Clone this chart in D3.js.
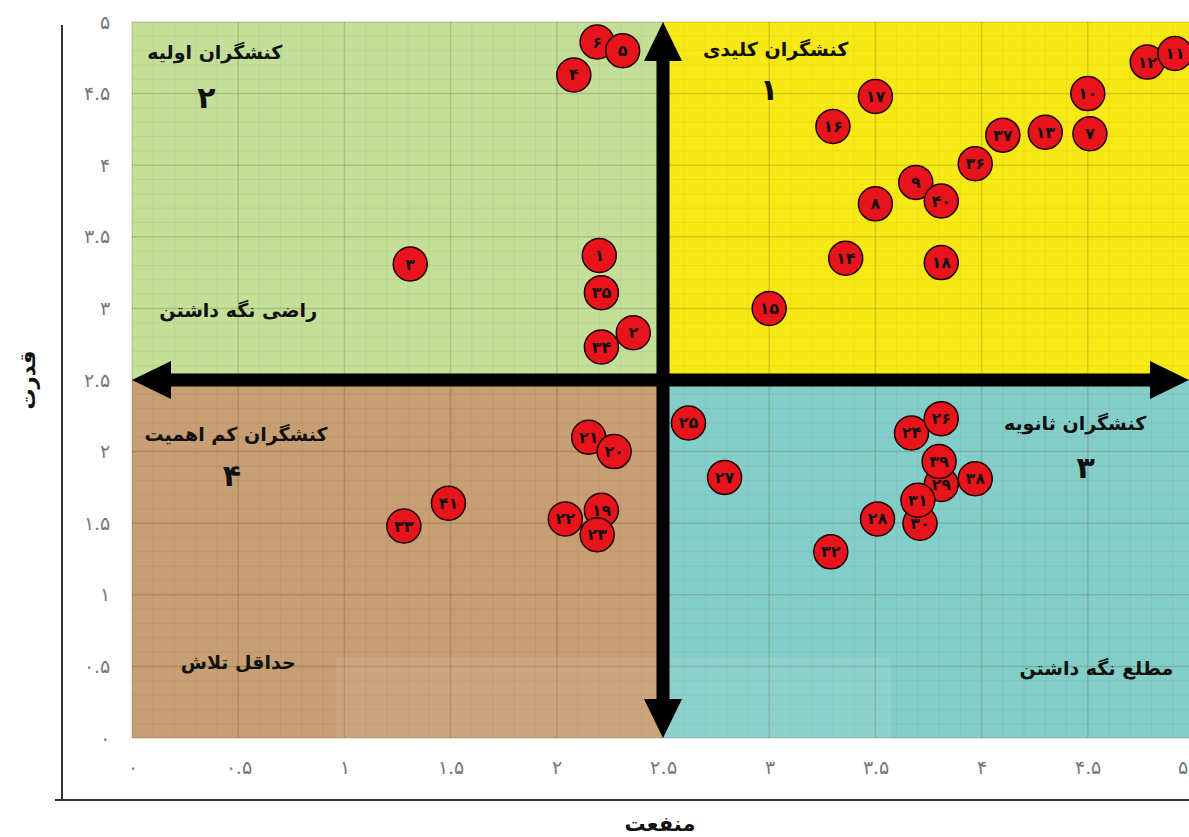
<!DOCTYPE html>
<html>
<head>
<meta charset="utf-8">
<script src="https://cdn.jsdelivr.net/npm/d3@7"></script>
<style>
  body { margin: 0; background: #fff; }
  svg { font-family: "DejaVu Sans", sans-serif; }
</style>
</head>
<body>
<svg width="1189" height="837"></svg>
<script>
// actors (draw order matters where circles overlap)
const actorIds = [1, 3, 4, 6, 5, 7, 8, 9, 10, 12, 11, 13, 14, 15, 16, 17, 18,
                  19, 21, 20, 22, 23, 24, 25, 26, 27, 28, 29, 30, 31, 32, 33,
                  34, 2, 35, 36, 37, 38, 39, 40, 41];
// منفعت (x)
const benefit = [2.20, 1.31, 2.08, 2.19, 2.31, 4.51, 3.50, 3.69, 4.50, 4.78, 4.91, 4.30, 3.36, 3.00, 3.30, 3.50, 3.81,
                 2.21, 2.15, 2.27, 2.04, 2.19, 3.67, 2.62, 3.81, 2.79, 3.51, 3.81, 3.71, 3.70, 3.29, 1.28,
                 2.21, 2.36, 2.21, 3.97, 4.10, 3.97, 3.80, 3.81, 1.49];
// قدرت (y)
const power = [3.37, 3.31, 4.63, 4.86, 4.80, 4.22, 3.73, 3.88, 4.50, 4.72, 4.78, 4.23, 3.35, 3.00, 4.27, 4.48, 3.32,
               1.59, 2.10, 2.00, 1.53, 1.42, 2.13, 2.20, 2.23, 1.82, 1.53, 1.77, 1.50, 1.66, 1.30, 1.48,
               2.73, 2.83, 3.11, 4.01, 4.21, 1.81, 1.93, 3.75, 1.64];

const tickValues = [0, 0.5, 1, 1.5, 2, 2.5, 3, 3.5, 4, 4.5, 5];
const quadrantTitles = ["کنشگران کلیدی", "کنشگران اولیه", "کنشگران ثانویه", "کنشگران کم اهمیت"];
const quadrantNumbers = [1, 2, 3, 4];
const strategyTexts = ["", "راضی نگه داشتن", "مطلع نگه داشتن", "حداقل تلاش"];
const xTitle = "منفعت";
const yTitle = "قدرت";

const faDigits = "۰۱۲۳۴۵۶۷۸۹";
const fa = v => String(v).replace(/\d/g, d => faDigits[d]);

const svg = d3.select("svg");

const x = d3.scaleLinear().domain([0, 5]).range([132, 1194]);
const y = d3.scaleLinear().domain([0, 5]).range([738, 22]);
const mid = 2.5;

// quadrant backgrounds
const quads = [
  {x0: mid, x1: 5, y0: mid, y1: 5, fill: "#f6e916"},
  {x0: 0, x1: mid, y0: mid, y1: 5, fill: "#c4df98"},
  {x0: mid, x1: 5, y0: 0, y1: mid, fill: "#84cec9"},
  {x0: 0, x1: mid, y0: 0, y1: mid, fill: "#c89e74"}
];
svg.append("g").selectAll("rect").data(quads).enter().append("rect")
  .attr("x", d => x(d.x0))
  .attr("y", d => y(d.y1))
  .attr("width", d => x(d.x1) - x(d.x0))
  .attr("height", d => y(d.y0) - y(d.y1))
  .attr("fill", d => d.fill);

// grid
const minor = d3.range(0, 5.001, 0.1).map(v => +v.toFixed(1));
const grid = svg.append("g");
grid.selectAll(".vminor").data(minor).enter().append("line")
  .attr("x1", d => x(d)).attr("x2", d => x(d))
  .attr("y1", y(5)).attr("y2", y(0))
  .attr("stroke", "rgba(60,50,0,0.06)").attr("stroke-width", 1);
grid.selectAll(".hminor").data(minor).enter().append("line")
  .attr("y1", d => y(d)).attr("y2", d => y(d))
  .attr("x1", x(0)).attr("x2", x(5))
  .attr("stroke", "rgba(60,50,0,0.06)").attr("stroke-width", 1);
grid.selectAll(".vmajor").data(tickValues).enter().append("line")
  .attr("x1", d => x(d)).attr("x2", d => x(d))
  .attr("y1", y(5)).attr("y2", y(0))
  .attr("stroke", "rgba(70,60,0,0.14)").attr("stroke-width", 1.5);
grid.selectAll(".hmajor").data(tickValues).enter().append("line")
  .attr("y1", d => y(d)).attr("y2", d => y(d))
  .attr("x1", x(0)).attr("x2", x(5))
  .attr("stroke", "rgba(70,60,0,0.14)").attr("stroke-width", 1.5);

// faint watermark band
svg.append("rect")
  .attr("x", 336).attr("y", 657).attr("width", 555).attr("height", y(0) - 657)
  .attr("fill", "#fff").attr("opacity", 0.08);

// frame
svg.append("line").attr("x1", 62).attr("x2", 62).attr("y1", 25).attr("y2", 800)
  .attr("stroke", "#333").attr("stroke-width", 2);
svg.append("line").attr("x1", 55).attr("x2", 1189).attr("y1", 800).attr("y2", 800)
  .attr("stroke", "#333").attr("stroke-width", 2);

// axes
const yAxis = d3.axisLeft(y).tickValues(tickValues).tickSize(0).tickPadding(0).tickFormat(fa);
svg.append("g").attr("transform", "translate(110,0)").call(yAxis)
  .call(g => g.select(".domain").remove())
  .selectAll("text")
  .attr("font-family", "DejaVu Serif, serif")
  .attr("font-size", 19).attr("fill", "#777");

const xAxis = d3.axisBottom(x).tickValues(tickValues).tickSize(0).tickPadding(0).tickFormat(fa);
svg.append("g").attr("transform", "translate(0,760)").call(xAxis)
  .call(g => g.select(".domain").remove())
  .selectAll("text")
  .attr("font-family", "DejaVu Serif, serif")
  .attr("font-size", 19).attr("fill", "#777")
  .attr("dx", d => d === 5 ? -12 : 0);

// central arrows
function arrow(g, xa, ya, xb, yb) {
  const len = 39, half = 19, w = 13;
  const dx = xb - xa, dy = yb - ya, L = Math.hypot(dx, dy);
  const ux = dx / L, uy = dy / L, px = -uy, py = ux;
  g.append("line")
    .attr("x1", xa + ux * len * 0.9).attr("y1", ya + uy * len * 0.9)
    .attr("x2", xb - ux * len * 0.9).attr("y2", yb - uy * len * 0.9)
    .attr("stroke", "#000").attr("stroke-width", w);
  [[xa, ya, 1], [xb, yb, -1]].forEach(([tx, ty, s]) => {
    const bx = tx + s * ux * len, by = ty + s * uy * len;
    g.append("path")
      .attr("d", `M${tx},${ty}L${bx + px * half},${by + py * half}L${bx - px * half},${by - py * half}Z`)
      .attr("fill", "#000");
  });
}
const arrows = svg.append("g");
arrow(arrows, x(mid), y(5), x(mid), y(0));
arrow(arrows, x(0), y(mid), x(5) - 5, y(mid));

// quadrant labels
const labelPos = [
  {title: [3.03, 4.81], num: [3.0, 4.53], strat: null},
  {title: [0.39, 4.79], num: [0.35, 4.47], strat: [0.50, 2.99]},
  {title: [4.44, 2.20], num: [4.49, 1.89], strat: [4.54, 0.49]},
  {title: [0.49, 2.12], num: [0.47, 1.83], strat: [0.50, 0.53]}
];
const labels = svg.append("g").attr("font-weight", "bold").attr("fill", "#111")
  .attr("text-anchor", "middle").attr("dominant-baseline", "central");
labelPos.forEach((p, i) => {
  labels.append("text").attr("x", x(p.title[0])).attr("y", y(p.title[1]))
    .attr("font-size", 19).text(quadrantTitles[i]);
  labels.append("text").attr("x", x(p.num[0])).attr("y", y(p.num[1]))
    .attr("font-size", 30).text(fa(quadrantNumbers[i]));
  if (p.strat) labels.append("text").attr("x", x(p.strat[0])).attr("y", y(p.strat[1]))
    .attr("font-size", 19).text(strategyTexts[i]);
});

// actors
const actors = actorIds.map((id, i) => ({id, b: benefit[i], p: power[i]}));
const pts = svg.append("g").selectAll("g").data(actors).enter().append("g")
  .attr("transform", d => `translate(${x(d.b)},${y(d.p)})`);
pts.append("circle").attr("r", 17)
  .attr("fill", "#e8141c").attr("stroke", "#1a0000").attr("stroke-width", 1.5);
pts.append("text")
  .attr("text-anchor", "middle").attr("dominant-baseline", "central")
  .attr("font-size", 16).attr("font-weight", "bold").attr("fill", "#111")
  .text(d => fa(d.id));

// axis titles
svg.append("text").attr("x", 660).attr("y", 824)
  .attr("text-anchor", "middle").attr("dominant-baseline", "central")
  .attr("font-size", 21).attr("font-weight", "bold").attr("fill", "#111")
  .text(xTitle);
svg.append("text").attr("transform", "translate(28,380) rotate(-90)")
  .attr("text-anchor", "middle").attr("dominant-baseline", "central")
  .attr("font-size", 21).attr("font-weight", "bold").attr("fill", "#111")
  .text(yTitle);
</script>
</body>
</html>
